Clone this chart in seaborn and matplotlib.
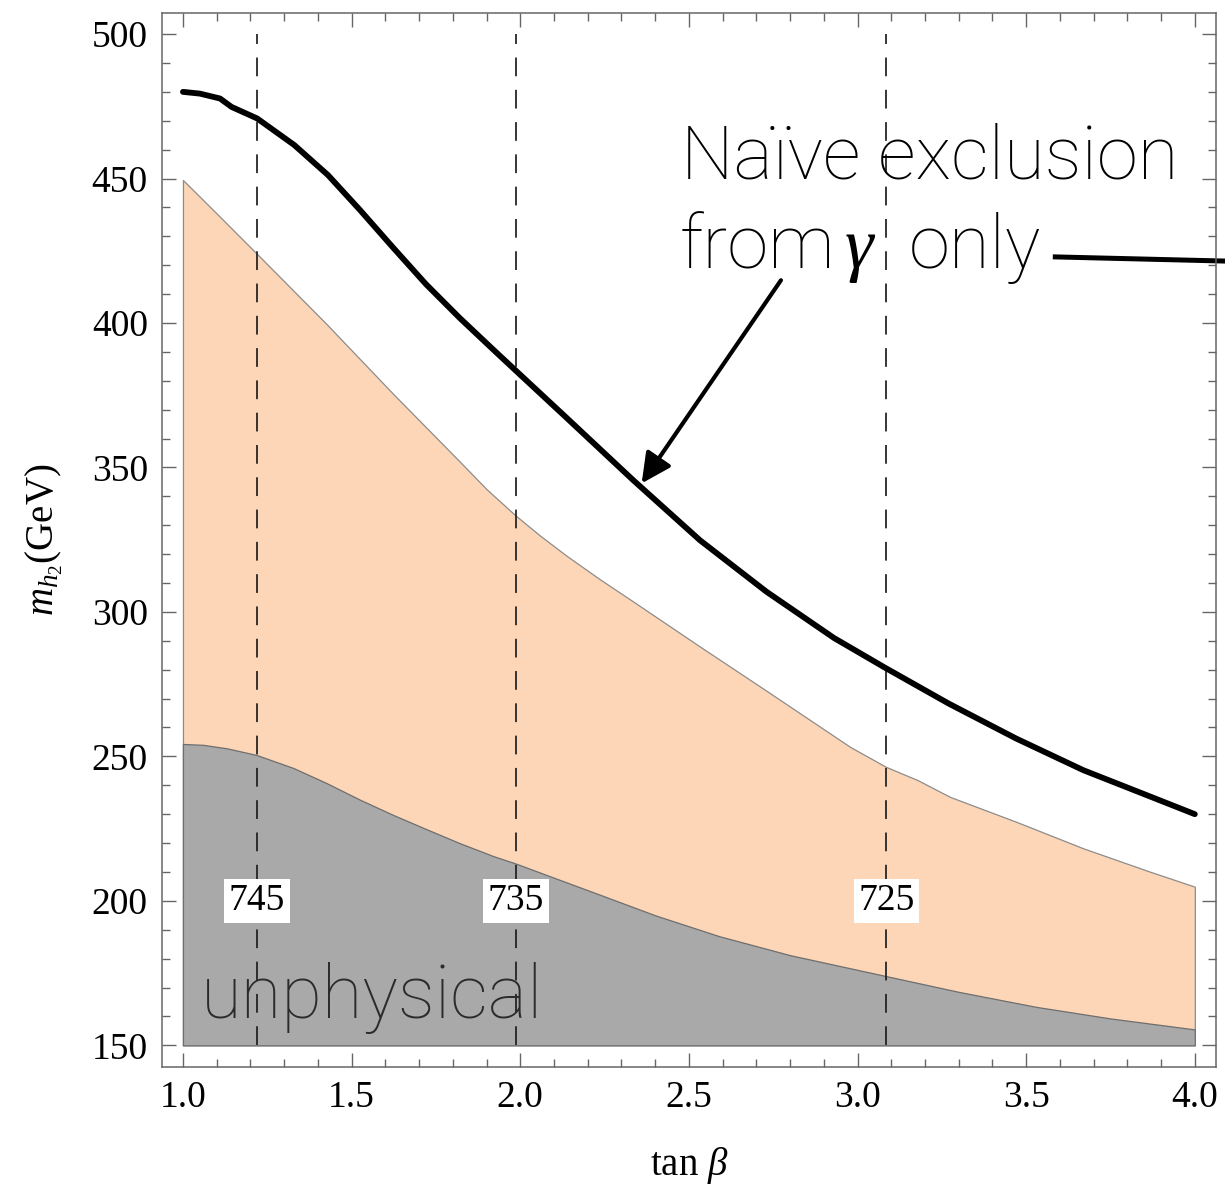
import matplotlib
matplotlib.use("Agg")
import matplotlib.pyplot as plt
import seaborn as sns
from matplotlib.ticker import MultipleLocator, FormatStrFormatter

# thick black line: naive exclusion from photons only
naive_tanb = [1.00, 1.05, 1.11, 1.144, 1.22, 1.33, 1.43, 1.525, 1.62, 1.72,
              1.82, 1.92, 1.987, 2.14, 2.335, 2.533, 2.73, 2.93, 3.08, 3.27,
              3.47, 3.67, 3.87, 4.00]
naive_mh2 = [480.0, 479.4, 477.7, 474.8, 470.8, 461.6, 451.2, 439.1, 426.5, 413.5,
             401.8, 390.8, 383.5, 366.9, 345.6, 324.8, 307.0, 291.0, 280.8, 268.3,
             256.2, 245.2, 236.0, 230.0]

# upper edge of the orange band
band_tanb = [1.00, 1.10, 1.218, 1.426, 1.623, 1.821, 1.90, 1.987, 2.06, 2.138,
             2.235, 2.335, 2.533, 2.72, 2.978, 3.084, 3.178, 3.274, 3.472, 3.669,
             3.867, 4.00]
band_mh2 = [449.5, 437.9, 424.1, 399.6, 375.5, 352.0, 342.5, 333.3, 326.3, 319.4,
            311.4, 303.6, 288.0, 273.5, 253.3, 246.4, 241.8, 236.0, 227.3, 218.2,
            210.1, 204.9]

# upper edge of the unphysical (grey) region
unphys_tanb = [1.00, 1.06, 1.13, 1.218, 1.327, 1.425, 1.525, 1.622, 1.722, 1.82,
               1.92, 1.987, 2.10, 2.216, 2.40, 2.589, 2.80, 3.087, 3.30, 3.53,
               3.75, 4.00]
unphys_mh2 = [254.3, 254.0, 252.8, 250.5, 246.0, 240.8, 235.0, 229.8, 224.8, 220.0,
              215.5, 212.9, 208.0, 203.0, 195.0, 187.8, 181.2, 173.9, 168.5, 163.3,
              159.3, 155.5]

# dashed contours and their labels
contour_tanb = [1.22, 1.987, 3.085]
contour_labels = ["745", "735", "725"]
contour_label_mh2 = 200
mh2_floor = 150
mh2_top = 500

sns.set_style("ticks")
plt.rcParams["font.family"] = ["Liberation Serif", "DejaVu Serif"]
plt.rcParams["mathtext.fontset"] = "custom"
plt.rcParams["mathtext.rm"] = "Liberation Serif"
plt.rcParams["mathtext.it"] = "Liberation Serif:italic"
plt.rcParams["text.color"] = "black"
plt.rcParams["axes.labelcolor"] = "black"
plt.rcParams["xtick.labelcolor"] = "black"
plt.rcParams["ytick.labelcolor"] = "black"

fig = plt.figure(figsize=(12.25, 11.86), dpi=100)
ax = fig.add_axes([0.132, 0.1006, 0.8607, 0.8882])

# regions
ax.fill_between(band_tanb, mh2_floor, band_mh2, facecolor="#fdd6b7",
                edgecolor="#8c8c8c", lw=0.9, zorder=1)
ax.fill_between(unphys_tanb, mh2_floor, unphys_mh2, facecolor="#a9a9a9",
                edgecolor="#6e6e6e", lw=0.9, zorder=2)

# dashed contours
ax.vlines(contour_tanb, mh2_floor, mh2_top, colors="#1e1e1e",
          linestyles=(0, (10.8, 7.8)), lw=1.25, zorder=3)
for xv, lab in zip(contour_tanb, contour_labels):
    ax.text(xv, contour_label_mh2, lab, ha="center", va="center", fontsize=27,
            zorder=4, bbox=dict(facecolor="white", edgecolor="none",
                                boxstyle="square,pad=0.12"))

# naive exclusion line
sns.lineplot(x=naive_tanb, y=naive_mh2, color="black", lw=4.2, ax=ax,
             sort=False, estimator=None, zorder=5)

# annotations
note_font = dict(family=["Roboto", "DejaVu Sans"], weight="light", fontsize=53.5)
ax.text(2.478, 450.0, "Naïve exclusion", ha="left", va="baseline", **note_font)
ax.text(2.4726, 418.9, "from", ha="left", va="baseline", **note_font)
ax.text(3.004, 418.9, "γ", ha="center", va="baseline", fontsize=52,
        family="Liberation Serif", style="italic", weight="normal")
ax.text(3.152, 418.9, "only", ha="left", va="baseline", **note_font)
ax.text(1.053, 159.3, "unphysical", ha="left", va="baseline", color="#2b2b2b",
        zorder=6, **note_font)
ax.annotate("", xy=(2.36, 344.5), xytext=(2.773, 414.8),
            arrowprops=dict(arrowstyle="-|>,head_length=0.9,head_width=0.45",
                            lw=3, color="black", shrinkA=0, shrinkB=0,
                            mutation_scale=20))
ax.plot([3.579, 4.104], [422.9, 421.4], color="black", lw=3.6,
        clip_on=False, solid_capstyle="butt")

# axes
ax.set_xlim(0.937, 4.063)
ax.set_ylim(142.6, 507.2)
ax.xaxis.set_major_locator(MultipleLocator(0.5))
ax.xaxis.set_minor_locator(MultipleLocator(0.1))
ax.xaxis.set_major_formatter(FormatStrFormatter("%.1f"))
ax.yaxis.set_major_locator(MultipleLocator(50))
ax.yaxis.set_minor_locator(MultipleLocator(10))
ax.tick_params(which="both", direction="in", top=True, right=True,
               color="#666666", width=1.0)
ax.tick_params(which="major", length=10, labelsize=27)
ax.tick_params(which="minor", length=6)
ax.tick_params(axis="x", pad=10)
ax.tick_params(axis="y", pad=10)
for sp in ax.spines.values():
    sp.set_color("#666666")
    sp.set_linewidth(1.1)

ax.set_xlabel(r"tan $\beta$", fontsize=28)
ax.set_ylabel(r"$m_{h_2}$(GeV)", fontsize=28)
ax.xaxis.set_label_coords(0.5, -0.074)
ax.yaxis.set_label_coords(-0.092, 0.5)

fig.savefig("out.png", dpi=100)
